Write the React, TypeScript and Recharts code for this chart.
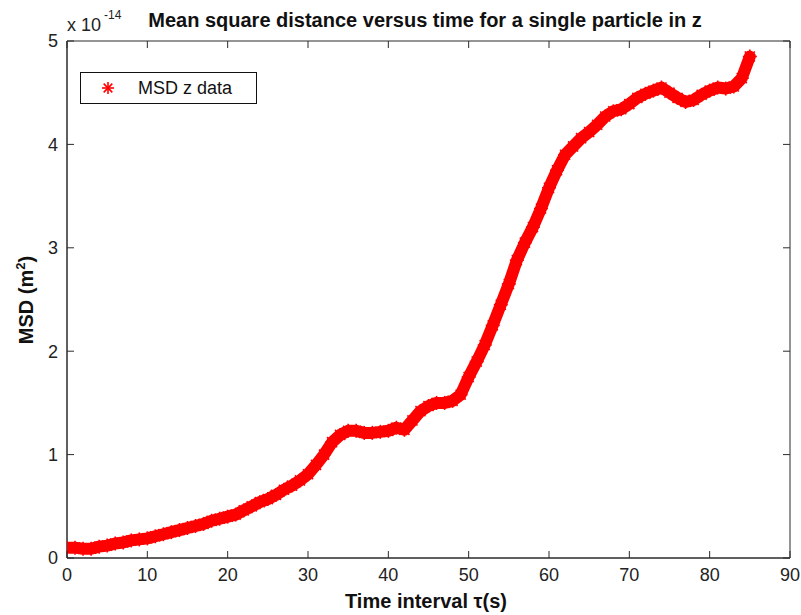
import React from "react";
import { LineChart, Line, XAxis, YAxis, ReferenceArea } from "recharts";

// Time interval tau (s)
const times = [
  0, 1, 2, 3, 4, 5, 6, 7, 8, 9, 10, 11, 12, 13, 14, 15, 16, 17, 18, 19, 20,
  21, 22, 23, 24, 25, 26, 27, 28, 29, 30, 31, 32, 33, 34, 35, 36, 37, 38, 39, 40,
  41, 42, 43, 44, 45, 46, 47, 48, 49, 50, 51, 52, 53, 54, 55, 56, 57, 58, 59, 60,
  61, 62, 63, 64, 65, 66, 67, 68, 69, 70, 71, 72, 73, 74, 75, 76, 77, 78, 79, 80,
  81, 82, 83, 84, 85,
];
// MSD in units of 1e-14 m^2
const msdE14 = [
  0.10, 0.10, 0.09, 0.09, 0.11, 0.12, 0.14, 0.15, 0.17, 0.18, 0.19,
  0.21, 0.23, 0.25, 0.27, 0.29, 0.31, 0.33, 0.36, 0.38, 0.40,
  0.42, 0.46, 0.50, 0.54, 0.57, 0.61, 0.66, 0.70, 0.75, 0.81,
  0.90, 1.00, 1.12, 1.19, 1.23, 1.23, 1.21, 1.21, 1.22, 1.23,
  1.26, 1.24, 1.33, 1.42, 1.47, 1.50, 1.50, 1.52, 1.58, 1.75,
  1.90, 2.06, 2.25, 2.45, 2.65, 2.88, 3.05, 3.20, 3.38, 3.58,
  3.75, 3.90, 3.98, 4.06, 4.12, 4.19, 4.27, 4.32, 4.34, 4.39,
  4.45, 4.49, 4.52, 4.55, 4.50, 4.45, 4.41, 4.43, 4.48, 4.52,
  4.55, 4.54, 4.56, 4.64, 4.85,
];
const xTicks = [0, 10, 20, 30, 40, 50, 60, 70, 80, 90];
const yTicks = [0, 1, 2, 3, 4, 5];
const seriesName = "MSD z data";
const titleText = "Mean square distance versus time for a single particle in z";

const data = times.map((t, i) => ({ t, msd: msdE14[i] }));

const FONT = '"Liberation Sans", Arial, Helvetica, sans-serif';
const RED = "#ff0000";
const AX = "#2b2b2b";
const PLOT_W = 723;
const PLOT_H = 517;
const TICK = 7;

const Asterisk = ({ cx, cy, r = 7 }: { cx: number; cy: number; r?: number }) => {
  const d = r * 0.72;
  return (
    <g stroke={RED} strokeWidth={1.6}>
      <line x1={cx - r} y1={cy} x2={cx + r} y2={cy} />
      <line x1={cx} y1={cy - r} x2={cx} y2={cy + r} />
      <line x1={cx - d} y1={cy - d} x2={cx + d} y2={cy + d} />
      <line x1={cx - d} y1={cy + d} x2={cx + d} y2={cy - d} />
    </g>
  );
};

const XTick = (props: any) => {
  const { x, y, payload } = props;
  return (
    <g>
      <line x1={x} y1={y} x2={x} y2={y - TICK} stroke={AX} strokeWidth={1} />
      <line x1={x} y1={y - PLOT_H} x2={x} y2={y - PLOT_H + TICK} stroke={AX} strokeWidth={1} />
      <text x={x} y={y + 10} dy="0.71em" textAnchor="middle" fontFamily={FONT} fontSize={18} fill="#222">
        {payload.value}
      </text>
    </g>
  );
};

const YTick = (props: any) => {
  const { x, y, payload } = props;
  return (
    <g>
      <line x1={x} y1={y} x2={x + TICK} y2={y} stroke={AX} strokeWidth={1} />
      <line x1={x + PLOT_W} y1={y} x2={x + PLOT_W - TICK} y2={y} stroke={AX} strokeWidth={1} />
      <text x={x - 9} y={y} dy="0.36em" textAnchor="end" fontFamily={FONT} fontSize={18} fill="#222">
        {payload.value}
      </text>
    </g>
  );
};

export default function App() {
  return (
    <div style={{ position: "absolute", left: 0, top: 0, width: 801, height: 615, background: "#fff" }}>
      <LineChart
        width={801}
        height={615}
        data={data}
        margin={{ top: 41, right: 11, bottom: 0, left: 0 }}
      >
        <XAxis
          dataKey="t"
          type="number"
          domain={[0, 90]}
          ticks={xTicks}
          height={57}
          tickSize={0}
          tickMargin={0}
          tickLine={false}
          axisLine={{ stroke: AX, strokeWidth: 1 }}
          tick={<XTick />}
          interval={0}
          allowDataOverflow
        />
        <YAxis
          type="number"
          domain={[0, 5]}
          ticks={yTicks}
          width={67}
          tickSize={0}
          tickMargin={0}
          tickLine={false}
          axisLine={{ stroke: AX, strokeWidth: 1 }}
          tick={<YTick />}
          interval={0}
          allowDataOverflow
        />
        <ReferenceArea x1={0} x2={90} y1={0} y2={5} fill="none" stroke={AX} strokeWidth={1} fillOpacity={0} />
        <Line
          dataKey="msd"
          name={seriesName}
          type="linear"
          stroke={RED}
          strokeWidth={12}
          strokeLinejoin="round"
          strokeLinecap="round"
          isAnimationActive={false}
          dot={(p: any) => <Asterisk key={`d-${p.index}`} cx={p.cx} cy={p.cy} />}
          activeDot={false}
        />
      </LineChart>
      <svg
        width={801}
        height={615}
        style={{ position: "absolute", left: 0, top: 0, pointerEvents: "none" }}
      >
        <text x={425} y={27} textAnchor="middle" fontFamily={FONT} fontSize={20} fontWeight="bold" fill="#111">
          {titleText}
        </text>
        <text x={67} y={31} fontFamily={FONT} fontSize={18} fill="#222">
          x 10
        </text>
        <text x={104} y={19} fontFamily={FONT} fontSize={12} fill="#222">
          -14
        </text>
        <g>
          <rect x={80.5} y={72.5} width={176} height={31} fill="#fff" stroke="#111" strokeWidth={1} />
          <Asterisk cx={108} cy={88} r={6} />
          <text x={138} y={94} fontFamily={FONT} fontSize={18} fill="#111">
            {seriesName}
          </text>
        </g>
        <text x={426} y={608} textAnchor="middle" fontFamily={FONT} fontSize={20} fontWeight="bold" fill="#111">
          Time interval τ(s)
        </text>
        <text
          x={33}
          y={300}
          transform="rotate(-90, 33, 300)"
          textAnchor="middle"
          fontFamily={FONT}
          fontSize={20}
          fontWeight="bold"
          fill="#111"
        >
          <tspan>MSD (m</tspan>
          <tspan dy={-8} fontSize={13}>2</tspan>
          <tspan dy={8}>)</tspan>
        </text>
      </svg>
    </div>
  );
}
